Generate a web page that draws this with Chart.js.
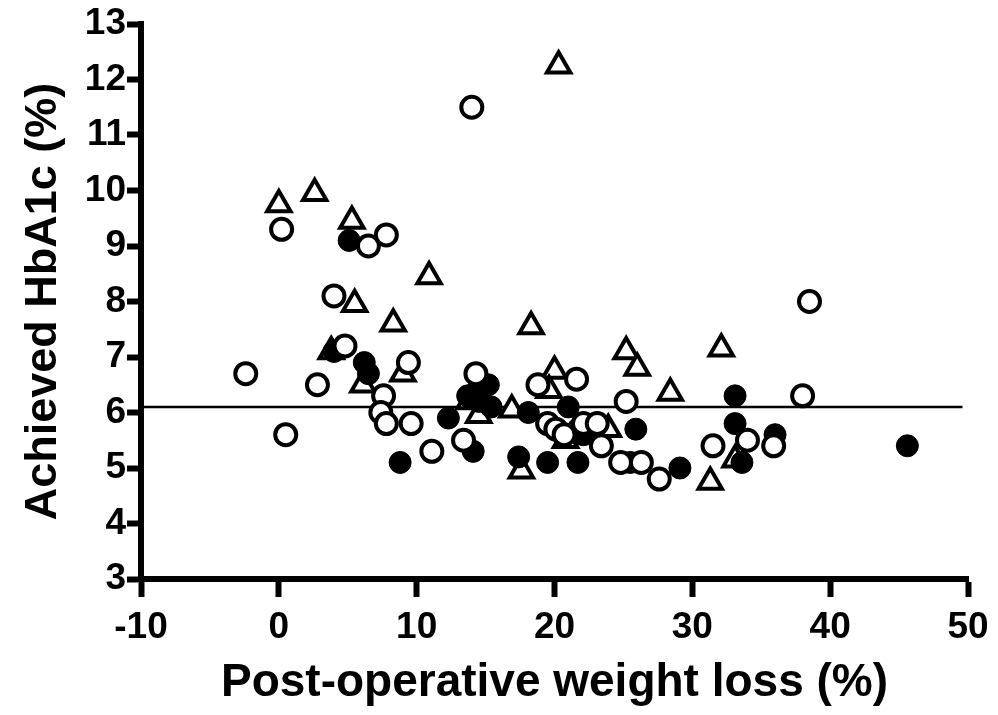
<!DOCTYPE html>
<html>
<head>
<meta charset="utf-8">
<script src="https://cdn.jsdelivr.net/npm/chart.js@4.4.0/dist/chart.umd.min.js"></script>
<style>
  html, body { margin: 0; padding: 0; background: #fff; }
  #wrap { width: 998px; height: 715px; }
</style>
</head>
<body>
<div id="wrap"><canvas id="c" width="998" height="715"></canvas></div>
<script>
// Open circles: [weight loss %, HbA1c %]
const openCircles = [
  [-2.4, 6.7], [0.2, 9.3], [0.5, 5.6], [2.8, 6.5], [4.0, 8.1], [4.8, 7.2],
  [6.5, 9.0], [7.8, 9.2], [7.6, 6.3], [7.4, 6.0], [7.8, 5.8], [9.4, 6.9],
  [9.6, 5.8], [11.1, 5.3], [13.4, 5.5], [14.0, 11.5], [14.3, 6.7], [18.8, 6.5],
  [19.5, 5.8], [20.1, 5.7], [20.7, 5.6], [21.6, 6.6], [22.1, 5.8], [23.1, 5.8],
  [23.4, 5.4], [24.8, 5.1], [25.2, 6.2], [26.3, 5.1], [27.6, 4.8], [31.5, 5.4],
  [34.0, 5.5], [35.9, 5.4], [38.0, 6.3], [38.5, 8.0]
];
// Filled circles
const filledCircles = [
  [5.1, 9.1], [4.0, 7.1], [6.2, 6.9], [6.5, 6.7], [8.8, 5.1], [12.3, 5.9],
  [13.7, 6.3], [14.1, 5.3], [14.5, 6.2], [14.6, 6.4], [15.2, 6.5], [15.4, 6.1],
  [17.4, 5.2], [18.1, 6.0], [19.5, 5.1], [21.0, 6.1], [21.7, 5.1], [21.7, 5.7],
  [22.1, 5.6], [25.5, 5.1], [25.9, 5.7], [29.1, 5.0], [33.1, 6.3], [33.1, 5.8],
  [33.6, 5.1], [36.0, 5.6], [45.6, 5.4]
];
// Open triangles
const openTriangles = [
  [0.0, 9.75], [2.6, 9.95], [5.3, 9.45], [5.5, 7.95], [10.9, 8.45], [8.3, 7.6],
  [3.8, 7.1], [6.1, 6.5], [9.0, 6.7], [20.3, 12.25], [18.3, 7.55], [25.2, 7.1],
  [26.0, 6.8], [28.4, 6.35], [20.0, 6.75], [19.6, 6.4], [32.1, 7.15], [14.3, 6.45],
  [14.5, 5.95], [13.8, 6.2], [16.9, 6.05], [17.6, 4.95], [20.8, 5.5], [23.9, 5.7],
  [31.3, 4.75], [33.1, 5.15]
];
// Reference line
const refLineY = 6.1;
const refLineX = [-10, 49.6];

const xTicks = [-10, 0, 10, 20, 30, 40, 50];
const yTicks = [3, 4, 5, 6, 7, 8, 9, 10, 11, 12, 13];

const toPts = arr => arr.map(p => ({ x: p[0], y: p[1] }));
const FONT = "'Liberation Sans', Arial, sans-serif";

new Chart(document.getElementById('c'), {
  type: 'scatter',
  data: {
    datasets: [
      {
        label: 'open circles',
        data: toPts(openCircles),
        pointStyle: 'circle',
        pointRadius: 10.5,
        pointBorderWidth: 4,
        pointBackgroundColor: '#fff',
        pointBorderColor: '#000',
        order: 1
      },
      {
        label: 'filled circles',
        data: toPts(filledCircles),
        pointStyle: 'circle',
        pointRadius: 11,
        pointBorderWidth: 1,
        pointBackgroundColor: '#000',
        pointBorderColor: '#000',
        order: 2
      },
      {
        label: 'open triangles',
        data: toPts(openTriangles),
        pointStyle: 'triangle',
        pointRadius: 13.5,
        pointBorderWidth: 4,
        pointBackgroundColor: '#fff',
        pointBorderColor: '#000',
        order: 3
      },
      {
        type: 'line',
        label: 'line',
        data: refLineX.map(x => ({ x: x, y: refLineY })),
        borderColor: '#000',
        borderWidth: 2.5,
        pointRadius: 0,
        fill: false,
        order: 4
      }
    ]
  },
  options: {
    responsive: false,
    animation: false,
    events: [],
    layout: { padding: { left: 0, right: 30, top: 24, bottom: 0 } },
    plugins: { legend: { display: false }, tooltip: { enabled: false } },
    scales: {
      x: {
        type: 'linear',
        min: -10, max: 50,
        afterFit: s => { s.height = 136; },
        afterBuildTicks: s => { s.ticks = xTicks.map(v => ({ value: v })); },
        grid: { display: true, drawOnChartArea: false, drawTicks: true, tickLength: 18, tickWidth: 6, tickColor: '#000' },
        border: { display: true, width: 6, color: '#000' },
        ticks: { color: '#000', padding: 9, font: { family: FONT, size: 37, weight: 'bold' }, maxRotation: 0 },
        title: { display: true, text: 'Post-operative weight loss (%)', color: '#000', font: { family: FONT, size: 46, weight: 'bold' }, padding: { top: 0, bottom: 4 } }
      },
      y: {
        type: 'linear',
        min: 3, max: 13,
        afterFit: s => { s.width = 141; },
        afterBuildTicks: s => { s.ticks = yTicks.map(v => ({ value: v })); },
        grid: { display: true, drawOnChartArea: false, drawTicks: true, tickLength: 14, tickWidth: 6, tickColor: '#000' },
        border: { display: true, width: 6, color: '#000' },
        ticks: { color: '#000', padding: 1, font: { family: FONT, size: 37, weight: 'bold' } },
        title: { display: true, text: 'Achieved HbA1c (%)', color: '#000', font: { family: FONT, size: 45, weight: 'bold' }, padding: { top: 17, bottom: 0 } }
      }
    }
  }
});
</script>
</body>
</html>
